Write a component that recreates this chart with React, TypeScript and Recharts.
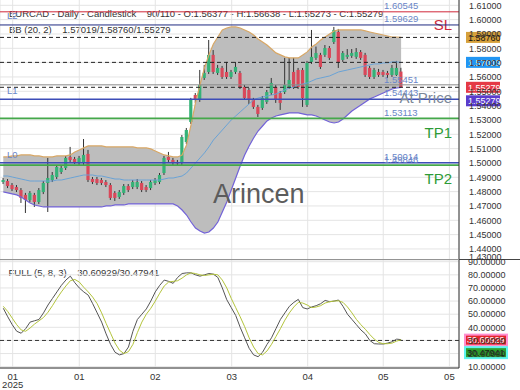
import React from "react";
import { ComposedChart, Line, Area, Bar, XAxis, YAxis, CartesianGrid, ReferenceLine } from "recharts";

const FONT = '"Liberation Sans", Arial, Helvetica, sans-serif';

// ---------- data ----------
const opens = [
  1.4867, 1.4874, 1.4846, 1.4832, 1.4811, 1.4777, 1.4742, 1.4777, 1.4728, 1.4797,
  1.4860, 1.4881, 1.4902, 1.4937, 1.4965, 1.5042, 1.5028, 1.5000, 1.5000, 1.5063,
  1.4888, 1.4888, 1.4881, 1.4867, 1.4846, 1.4791, 1.4763, 1.4791, 1.4839, 1.4832,
  1.4832, 1.4860, 1.4832, 1.4825, 1.4860, 1.4867, 1.4930, 1.5042, 1.5021, 1.5007,
  1.5000, 1.5146, 1.5286, 1.5474, 1.5440, 1.5593, 1.5635, 1.5754, 1.5628, 1.5663,
  1.5635, 1.5600, 1.5635, 1.5628, 1.5530, 1.5509, 1.5440, 1.5391, 1.5384, 1.5426,
  1.5488, 1.5530, 1.5488, 1.5495, 1.5530, 1.5635, 1.5649, 1.5649, 1.5405, 1.5705,
  1.5733, 1.5754, 1.5754, 1.5802, 1.5844, 1.5914, 1.5719, 1.5740, 1.5747, 1.5740,
  1.5774, 1.5754, 1.5663, 1.5600, 1.5635, 1.5635, 1.5628, 1.5614, 1.5614, 1.56377,
];
const highs = [
  1.4895, 1.4888, 1.4860, 1.4846, 1.4825, 1.4791, 1.4804, 1.4791, 1.4825, 1.4874,
  1.5035, 1.4937, 1.4986, 1.4979, 1.5049, 1.5112, 1.5042, 1.5049, 1.5167, 1.5091,
  1.4902, 1.4902, 1.4895, 1.4881, 1.4860, 1.4804, 1.4811, 1.4853, 1.4853, 1.4881,
  1.4888, 1.4874, 1.4846, 1.4881, 1.4895, 1.4930, 1.5049, 1.5077, 1.5035, 1.5021,
  1.5195, 1.5244, 1.5454, 1.5488, 1.5649, 1.5684, 1.5858, 1.5788, 1.5684, 1.5677,
  1.5705, 1.5649, 1.5705, 1.5642, 1.5544, 1.5523, 1.5454, 1.5405, 1.5467, 1.5509,
  1.5593, 1.5544, 1.5502, 1.5733, 1.5733, 1.5733, 1.5663, 1.5663, 1.5712, 1.5928,
  1.5812, 1.5768, 1.5823, 1.5816, 1.5949, 1.5935, 1.5781, 1.5795, 1.5795, 1.5802,
  1.5788, 1.5768, 1.5677, 1.5663, 1.5656, 1.5649, 1.5642, 1.5684, 1.5712, 1.56638,
];
const lows = [
  1.4853, 1.4825, 1.4804, 1.4797, 1.4721, 1.4651, 1.4728, 1.4693, 1.4714, 1.4783,
  1.4658, 1.4867, 1.4888, 1.4923, 1.4951, 1.5007, 1.4993, 1.4986, 1.4986, 1.4867,
  1.4853, 1.4846, 1.4846, 1.4832, 1.4742, 1.4735, 1.4749, 1.4777, 1.4797, 1.4818,
  1.4818, 1.4797, 1.4797, 1.4811, 1.4846, 1.4853, 1.4916, 1.5007, 1.4986, 1.4979,
  1.4986, 1.5132, 1.5272, 1.5419, 1.5426, 1.5579, 1.5621, 1.5621, 1.5614, 1.5586,
  1.5586, 1.5586, 1.5621, 1.5516, 1.5440, 1.5412, 1.5377, 1.5321, 1.5370, 1.5412,
  1.5474, 1.5419, 1.5370, 1.5481, 1.5516, 1.5516, 1.5516, 1.5391, 1.5391, 1.5691,
  1.5719, 1.5656, 1.5740, 1.5719, 1.5830, 1.5663, 1.5705, 1.5726, 1.5733, 1.5726,
  1.5719, 1.5600, 1.5586, 1.5586, 1.5600, 1.5600, 1.5593, 1.5600, 1.5607, 1.55273,
];
const closes = [
  1.4881, 1.4839, 1.4818, 1.4811, 1.4756, 1.4742, 1.4791, 1.4728, 1.4811, 1.4860,
  1.4895, 1.4916, 1.4972, 1.4965, 1.5035, 1.5021, 1.5007, 1.5035, 1.5056, 1.4881,
  1.4867, 1.4860, 1.4860, 1.4846, 1.4756, 1.4756, 1.4797, 1.4839, 1.4811, 1.4867,
  1.4867, 1.4811, 1.4811, 1.4867, 1.4881, 1.4916, 1.5035, 1.5021, 1.5000, 1.4997,
  1.5181, 1.5230, 1.5440, 1.5440, 1.5544, 1.5628, 1.5754, 1.5635, 1.5663, 1.5600,
  1.5600, 1.5635, 1.5670, 1.5530, 1.5453, 1.5440, 1.5391, 1.5342, 1.5453, 1.5495,
  1.5558, 1.5440, 1.5419, 1.5544, 1.5579, 1.5530, 1.5530, 1.5453, 1.5698, 1.5740,
  1.5767, 1.5670, 1.5802, 1.5733, 1.5928, 1.5705, 1.5767, 1.5754, 1.5767, 1.5774,
  1.5733, 1.5614, 1.5600, 1.5649, 1.5614, 1.5614, 1.5614, 1.5663, 1.5663, 1.55279,
];
const bbUpper = [
  1.5042, 1.5042, 1.5049, 1.5049, 1.5056, 1.5056, 1.5056, 1.5049, 1.5049, 1.5042,
  1.5042, 1.5042, 1.5049, 1.5049, 1.5049, 1.5056, 1.5077, 1.5091, 1.5105, 1.5119,
  1.5119, 1.5119, 1.5119, 1.5112, 1.5112, 1.5112, 1.5112, 1.5112, 1.5112, 1.5112,
  1.5105, 1.5105, 1.5105, 1.5098, 1.5084, 1.5070, 1.5056, 1.5049, 1.5042, 1.5042,
  1.5056, 1.5126, 1.5265, 1.5419, 1.5544, 1.5663, 1.5754, 1.5830, 1.5879, 1.5928,
  1.5942, 1.5949, 1.5949, 1.5942, 1.5928, 1.5914, 1.5893, 1.5865, 1.5844, 1.5823,
  1.5795, 1.5768, 1.5754, 1.5740, 1.5733, 1.5733, 1.5733, 1.5754, 1.5775, 1.5809,
  1.5830, 1.5858, 1.5879, 1.5900, 1.5921, 1.5928, 1.5928, 1.5928, 1.5928, 1.5928,
  1.5928, 1.5921, 1.5914, 1.5907, 1.5900, 1.5893, 1.5886, 1.5879, 1.5879, 1.5876,
];
const bbMiddle = [
  1.4909, 1.4909, 1.4902, 1.4895, 1.4888, 1.4881, 1.4874, 1.4874, 1.4874, 1.4874,
  1.4874, 1.4874, 1.4881, 1.4881, 1.4888, 1.4895, 1.4902, 1.4909, 1.4916, 1.4916,
  1.4916, 1.4909, 1.4909, 1.4902, 1.4895, 1.4888, 1.4888, 1.4881, 1.4881, 1.4881,
  1.4881, 1.4881, 1.4881, 1.4881, 1.4881, 1.4881, 1.4888, 1.4895, 1.4895, 1.4902,
  1.4909, 1.4930, 1.4965, 1.5000, 1.5035, 1.5070, 1.5112, 1.5160, 1.5195, 1.5230,
  1.5265, 1.5300, 1.5328, 1.5356, 1.5384, 1.5412, 1.5440, 1.5453, 1.5460, 1.5467,
  1.5474, 1.5481, 1.5495, 1.5509, 1.5523, 1.5530, 1.5544, 1.5551, 1.5558, 1.5572,
  1.5586, 1.5593, 1.5600, 1.5607, 1.5621, 1.5635, 1.5642, 1.5649, 1.5656, 1.5663,
  1.5670, 1.5677, 1.5684, 1.5691, 1.5691, 1.5698, 1.5698, 1.5705, 1.5705, 1.57019,
];
const bbLower = [
  1.4798, 1.4791, 1.4784, 1.4777, 1.4763, 1.4742, 1.4721, 1.4707, 1.4700, 1.4693,
  1.4693, 1.4693, 1.4693, 1.4693, 1.4693, 1.4693, 1.4693, 1.4693, 1.4693, 1.4693,
  1.4693, 1.4693, 1.4693, 1.4700, 1.4700, 1.4707, 1.4707, 1.4707, 1.4714, 1.4714,
  1.4714, 1.4714, 1.4714, 1.4714, 1.4714, 1.4714, 1.4714, 1.4714, 1.4714, 1.4700,
  1.4672, 1.4637, 1.4588, 1.4546, 1.4525, 1.4511, 1.4518, 1.4546, 1.4588, 1.4658,
  1.4728, 1.4811, 1.4895, 1.4979, 1.5056, 1.5119, 1.5174, 1.5223, 1.5258, 1.5293,
  1.5314, 1.5328, 1.5335, 1.5342, 1.5349, 1.5349, 1.5349, 1.5342, 1.5335, 1.5335,
  1.5328, 1.5314, 1.5300, 1.5286, 1.5279, 1.5286, 1.5307, 1.5335, 1.5363, 1.5384,
  1.5405, 1.5426, 1.5447, 1.5460, 1.5474, 1.5488, 1.5502, 1.5516, 1.5523, 1.55279,
];
const stochK = [
  54.5, 48, 42, 37, 35.5, 39, 44, 45, 46, 51,
  57, 62, 67, 72, 76, 79, 74, 70, 67, 64.5,
  58, 51, 44, 35, 27, 21, 19, 20, 25, 37,
  46, 50, 54, 60, 67, 72, 76, 75, 73.5, 78,
  81, 81.5, 81.5, 80, 79, 80, 81, 80.5, 78, 70,
  61, 55, 49, 40, 32, 24, 19, 17.6, 21, 27,
  32, 39, 46, 51, 56, 59, 61.3, 55, 54, 55.5,
  56.5, 58, 60.5, 59.5, 60, 60.8, 56, 50, 46, 42,
  38, 35, 30, 27.5, 27.3, 27.3, 28, 29, 31, 30.60929,
];
const stochD = [
  56, 52, 47, 42, 38, 37, 39.5, 42.5, 45, 47.5,
  51.5, 56.5, 62, 67, 71.5, 75.5, 76.5, 74.5, 70.5, 67,
  63, 58, 51, 43, 35.5, 28, 22.5, 20, 21.5, 27,
  36, 44, 50, 54.5, 60, 66, 71.5, 74.5, 75, 75.5,
  77.5, 80, 81.5, 81, 80, 79.5, 80, 80.5, 80, 76,
  70, 62, 55, 48, 40.5, 32, 25, 20, 19, 22,
  27, 33, 39, 45.5, 51, 55.5, 59, 58.5, 57, 55,
  55.5, 56.5, 58.5, 59.5, 60, 60.2, 59, 55.5, 51, 46,
  42, 38.5, 34.5, 31, 28.5, 27.5, 27.5, 28, 29.5, 30.47941,
];
const xTickPositions = [2.1, 17, 34, 51.1, 68.1, 85, 99.8];
const xTickLabels = ["01", "01", "02", "03", "04", "05", "05"];
const xTickSubLabels = ["2025", "", "", "", "", "", ""];
const priceTicks = [1.43, 1.44, 1.45, 1.46, 1.47, 1.48, 1.49, 1.5, 1.51, 1.52, 1.53, 1.54, 1.55, 1.56, 1.57, 1.58, 1.59, 1.6, 1.61];
const priceGrid = priceTicks.filter((t) => t >= 1.44);
const stochTicks = [10, 20, 30, 40, 50, 60, 70, 80, 90];

const levelSL = 1.60545;
const levelL2 = 1.59629;
const levelL1Gray = 1.55451;
const levelAtPrice = 1.54443;
const levelTP1 = 1.53113;
const levelL0 = 1.50014;
const levelTP2 = 1.49846;
const stochLevel = 30;

const last = opens.length - 1;
const data = opens.map((o, i) => ({
  i,
  open: o,
  high: highs[i],
  low: lows[i],
  close: closes[i],
  upper: bbUpper[i],
  middle: bbMiddle[i],
  lower: bbLower[i],
  k: stochK[i],
  d: stochD[i],
}));

const X_DOMAIN: [number, number] = [-0.738, 101.95];
const PRICE_DOMAIN: [number, number] = [1.4323, 1.6137];
const STOCH_DOMAIN: [number, number] = [9.0, 91.3];

const GREEN = "#34b277";
const RED = "#d9485a";
const TAG_BLUE = "#6a86c8";

// ---------- components ----------
const Candle = (props: any) => {
  const { x, y, width, height, payload } = props;
  if (!payload || x == null) return null;
  const cx = x + width / 2;
  const top = Math.min(y, y + height);
  const bot = Math.max(y, y + height);
  const span = payload.high - payload.low;
  const py = (v: number) => (span === 0 ? top : top + ((payload.high - v) / span) * (bot - top));
  const up = payload.close >= payload.open;
  const bTop = py(Math.max(payload.open, payload.close));
  const bBot = py(Math.min(payload.open, payload.close));
  return (
    <g>
      <line x1={cx} x2={cx} y1={top} y2={bot} stroke="#333" strokeWidth={1} />
      <rect x={cx - 1.6} y={bTop} width={3.2} height={Math.max(1, bBot - bTop)} fill={up ? GREEN : RED} />
    </g>
  );
};

type BoxSpec = { text: string; bg: string; fg: string; dy: number; halo?: string; w?: number; dx?: number };
const Tags = (props: any) => {
  const { viewBox, price, priceDy = -3, left, leftDy = -5, big, bigColor, bigDy = 0, boxes = [] } = props;
  if (!viewBox) return null;
  const x = viewBox.x;
  const y = viewBox.y;
  const right = viewBox.x + viewBox.width;
  return (
    <g>
      {price && (
        <text x={x + 384} y={y + priceDy} fontSize={9.5} fill={TAG_BLUE} fontFamily={FONT}>
          {price}
        </text>
      )}
      {left && (
        <text x={x + 7} y={y + leftDy} fontSize={9.5} fill={TAG_BLUE} fontFamily={FONT}>
          {left}
        </text>
      )}
      {big && (
        <text x={right - 7} y={y + bigDy} fontSize={15} textAnchor="end" fill={bigColor} fontFamily={FONT}>
          {big}
        </text>
      )}
      {(boxes as BoxSpec[]).map((b, idx) => {
        const w = b.w ?? 34;
        const bx = right + (b.dx ?? 7);
        const by = y + b.dy;
        return (
          <g key={idx}>
            <rect
              x={bx}
              y={by - 5.5}
              width={w}
              height={11}
              fill={b.bg}
              stroke={b.halo ?? "none"}
              strokeWidth={b.halo ? 2 : 0}
            />
            <text x={bx + 2} y={by + 3.3} fontSize={9} fill={b.fg} fontFamily={FONT}>
              {b.text}
            </text>
          </g>
        );
      })}
    </g>
  );
};

const PriceTick = (props: any) => {
  const { x, y, payload } = props;
  const yy = Math.min(y, 257);
  return (
    <text x={x} y={yy + 3.3} fontSize={9} fill="#333" fontFamily={FONT} textAnchor="start">
      {Number(payload.value).toFixed(5)}
    </text>
  );
};

const StochTick = (props: any) => {
  const { x, y, payload } = props;
  return (
    <text x={x} y={y + 3.3} fontSize={9} fill="#333" fontFamily={FONT} textAnchor="start">
      {Number(payload.value).toFixed(5)}
    </text>
  );
};

const DateTick = (props: any) => {
  const { x, y, payload } = props;
  const idx = xTickPositions.indexOf(payload.value);
  return (
    <g>
      <text x={x} y={y + 11.5} fontSize={9.5} fill="#333" fontFamily={FONT} textAnchor="middle">
        {xTickLabels[idx] ?? ""}
      </text>
      {xTickSubLabels[idx] && (
        <text x={x} y={y + 19.5} fontSize={9.5} fill="#333" fontFamily={FONT} textAnchor="middle">
          {xTickSubLabels[idx]}
        </text>
      )}
    </g>
  );
};

const fmt = (v: number) => v.toFixed(5);

export default function App() {
  return (
    <div style={{ position: "absolute", left: 0, top: 0, width: 520, height: 390, background: "#fff", overflow: "hidden" }}>
      <svg width={520} height={390} style={{ position: "absolute", left: 0, top: 0 }}>
        <text x={9} y={16.5} fontSize={9.5} fill="#333" fontFamily={FONT} style={{ whiteSpace: "pre" }}>
          {`EURCAD - Daily - Candlestick    ${opens.length}/110 - O:${fmt(opens[last])} - H:${fmt(highs[last])} - L:${fmt(lows[last])} - C:${fmt(closes[last])}`}
        </text>
        <text x={9} y={33} fontSize={9.5} fill="#333" fontFamily={FONT} style={{ whiteSpace: "pre" }}>
          {`BB (20, 2)    ${fmt(bbMiddle[last])}/${fmt(bbUpper[last])}/${fmt(bbLower[last])}`}
        </text>
        <text x={8.5} y={276} fontSize={9.5} fill="#333" fontFamily={FONT} style={{ whiteSpace: "pre" }}>
          {`FULL (5, 8, 3)    ${fmt(stochK[last])}/${fmt(stochD[last])}`}
        </text>
      </svg>

      <div style={{ position: "absolute", left: 0, top: 0 }}>
        <ComposedChart width={520} height={272} data={data} margin={{ top: 0, right: 0, bottom: 12, left: 0 }}>
          <CartesianGrid stroke="#e4e4e4" horizontalValues={priceGrid} />
          <XAxis type="number" dataKey="i" domain={X_DOMAIN} ticks={xTickPositions} allowDataOverflow hide />
          <YAxis
            orientation="right"
            width={61}
            domain={PRICE_DOMAIN}
            ticks={priceTicks}
            allowDataOverflow
            interval={0}
            axisLine={{ stroke: "#333" }}
            tickLine={false}
            tickSize={0}
            tickMargin={10}
            tick={<PriceTick />}
          />
          <Area
            dataKey={(d: any) => [d.lower, d.upper]}
            fill="#bdbdbd"
            fillOpacity={1}
            stroke="none"
            dot={false}
            activeDot={false}
            isAnimationActive={false}
          />
          <Line dataKey="upper" stroke="#d8a765" strokeWidth={1.2} dot={false} activeDot={false} isAnimationActive={false} />
          <Line dataKey="lower" stroke="#7262d8" strokeWidth={1.2} dot={false} activeDot={false} isAnimationActive={false} />
          <Line dataKey="middle" stroke="#6aa3d6" strokeWidth={1} dot={false} activeDot={false} isAnimationActive={false} />
          <Bar dataKey={(d: any) => [d.low, d.high]} shape={<Candle />} activeBar={false} barSize={4} isAnimationActive={false} />

          <ReferenceLine y={levelSL} stroke="#d0283a" strokeWidth={1}
            label={<Tags price={fmt(levelSL)} big="SL" bigColor="#cc2a3c" bigDy={17.7} />} />
          <ReferenceLine y={levelL2} stroke="#1f2a80" strokeWidth={1}
            label={<Tags price={fmt(levelL2)} left="L2" leftDy={-6} />} />
          <ReferenceLine y={bbUpper[last]} stroke="#222" strokeDasharray="4 3"
            label={<Tags boxes={[{ text: fmt(bbUpper[last]), bg: "#d6a13c", fg: "#111", dy: 0 }]} />} />
          <ReferenceLine y={bbMiddle[last]} stroke="#222" strokeDasharray="4 3"
            label={<Tags boxes={[{ text: fmt(bbMiddle[last]), bg: "#2196f3", fg: "#fff", dy: 0 }]} />} />
          <ReferenceLine y={levelL1Gray} stroke="#8a8a8a" strokeWidth={1}
            label={<Tags price={fmt(levelL1Gray)} priceDy={-2} />} />
          <ReferenceLine y={closes[last]} stroke="#222" strokeDasharray="4 3"
            label={<Tags boxes={[
              { text: fmt(closes[last]), bg: "#e53945", fg: "#fff", dy: 0 },
              { text: fmt(bbLower[last]), bg: "#5a3ccc", fg: "#fff", dy: 13.5 },
            ]} />} />
          <ReferenceLine y={levelAtPrice} stroke="#3d4db8" strokeWidth={1.6}
            label={<Tags price={fmt(levelAtPrice)} left="L1" leftDy={-5} big="At Price" bigColor="#7c8898" bigDy={4} />} />
          <ReferenceLine y={levelTP1} stroke="#44a84a" strokeWidth={1.6}
            label={<Tags price={fmt(levelTP1)} priceDy={-2} big="TP1" bigColor="#2e9b36" bigDy={19.5} />} />
          <ReferenceLine y={levelL0} stroke="#3d4db8" strokeWidth={1.6}
            label={<Tags price={fmt(levelL0)} left="L0" leftDy={-5} />} />
          <ReferenceLine y={levelTP2} stroke="#44a84a" strokeWidth={1.6}
            label={<Tags price={fmt(levelTP2)} priceDy={-2} big="TP2" bigColor="#2e9b36" bigDy={18.5} />} />
        </ComposedChart>
      </div>

      <div style={{ position: "absolute", left: 0, top: 259, width: 520, height: 1, background: "#444" }} />

      <svg width={520} height={390} style={{ position: "absolute", left: 0, top: 0, pointerEvents: "none" }}>
        <text x={213} y={203} fontSize={27} fill="#5c5c5c" fontFamily={FONT}>Arincen</text>
      </svg>

      <div style={{ position: "absolute", left: 0, top: 250 }}>
        <ComposedChart width={520} height={140} data={data} margin={{ top: 10, right: 0, bottom: 0, left: 0 }}>
          <CartesianGrid stroke="#e4e4e4" />
          <XAxis
            type="number"
            dataKey="i"
            domain={X_DOMAIN}
            ticks={xTickPositions}
            allowDataOverflow
            interval={0}
            height={22}
            axisLine={{ stroke: "#333" }}
            tickLine={false}
            tickSize={0}
            tickMargin={0}
            tick={<DateTick />}
          />
          <YAxis
            orientation="right"
            width={61}
            domain={STOCH_DOMAIN}
            ticks={stochTicks}
            allowDataOverflow
            interval={0}
            axisLine={{ stroke: "#333" }}
            tickLine={false}
            tickSize={0}
            tickMargin={9}
            tick={<StochTick />}
          />
          <ReferenceLine y={stochLevel} stroke="#333" strokeDasharray="4 3" />
          <Line dataKey="k" stroke="#555" strokeWidth={1} dot={false} activeDot={false} isAnimationActive={false} />
          <Line dataKey="d" stroke="#b3c43c" strokeWidth={1} dot={false} activeDot={false} isAnimationActive={false} />
          <ReferenceLine y={stochK[last]} stroke="none"
            label={<Tags boxes={[
              { text: fmt(stochK[last]), bg: "#e3262b", fg: "#fff", dy: 0.5, halo: "#ff8fd0", w: 42, dx: 6 },
              { text: fmt(stochD[last]), bg: "#2e9e2e", fg: "#0d2a0d", dy: 13, halo: "#5ff5f0", w: 42, dx: 6 },
            ]} />} />
        </ComposedChart>
      </div>
    </div>
  );
}
